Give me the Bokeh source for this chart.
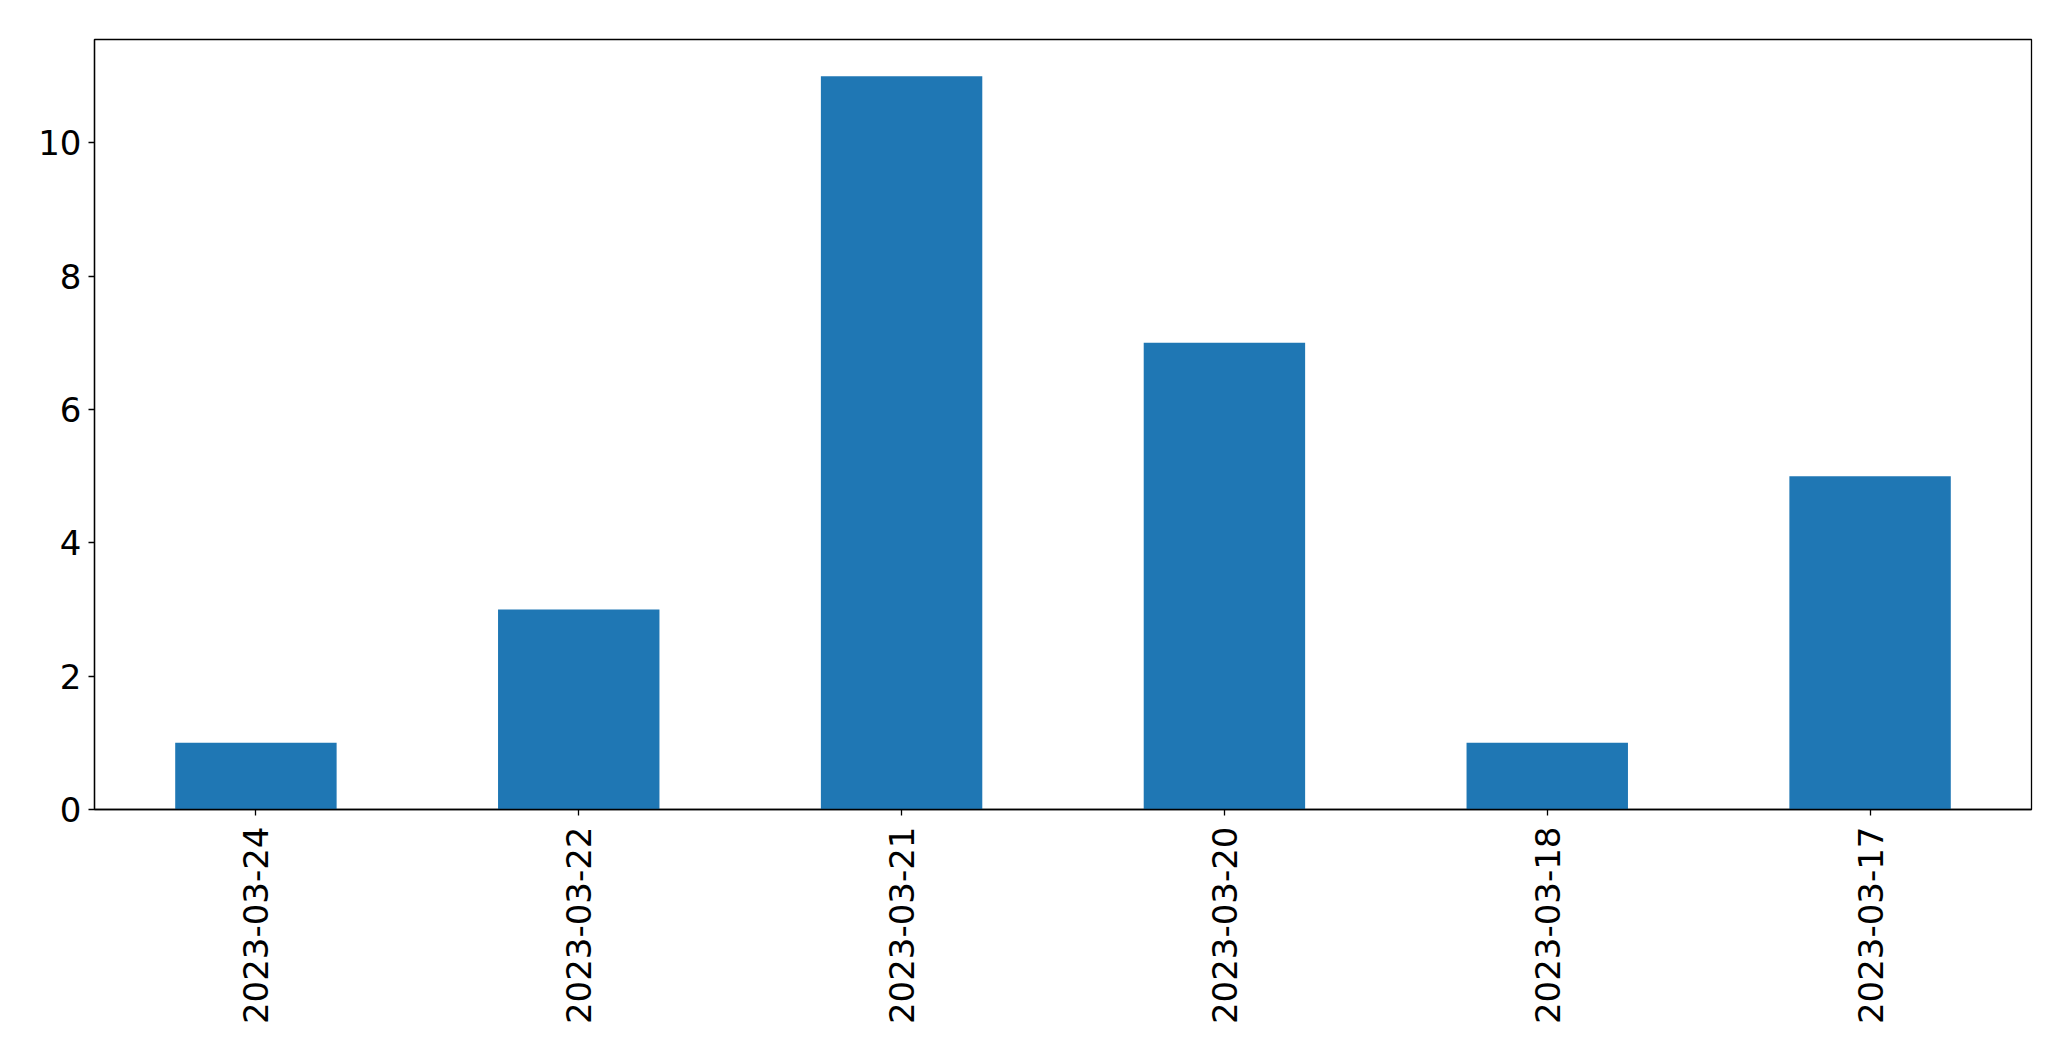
from bokeh.plotting import figure
from bokeh.models import Range1d, FactorRange, FixedTicker
from bokeh.embed import file_html
from bokeh.resources import INLINE
import math

dates = ["2023-03-24", "2023-03-22", "2023-03-21", "2023-03-20", "2023-03-18", "2023-03-17"]
counts = [1, 3, 11, 7, 1, 5]
y_ticks = [0, 2, 4, 6, 8, 10]

p = figure(x_range=FactorRange(*dates, range_padding=0), y_range=Range1d(0, 11.55),
           frame_width=1937, frame_height=770,
           min_border_left=94, min_border_right=31, min_border_top=39, min_border_bottom=200,
           output_backend="svg", toolbar_location=None)

p.vbar(x=dates, top=counts, width=0.5, color="#1f77b4", line_color=None)

p.xgrid.visible = False
p.ygrid.visible = False
p.outline_line_color = "black"
p.outline_line_width = 1.3
p.background_fill_color = "white"
p.border_fill_color = "white"

for ax in (p.xaxis[0], p.yaxis[0]):
    ax.major_label_text_font = "DejaVu Sans"
    ax.major_label_text_font_size = "34px"
    ax.major_label_text_color = "black"
    ax.axis_line_color = "black"
    ax.axis_line_width = 1.3
    ax.major_tick_line_color = "black"
    ax.major_tick_line_width = 1.3
    ax.major_tick_out = 6
    ax.major_tick_in = 0
    ax.minor_tick_line_color = None

p.yaxis[0].ticker = FixedTicker(ticks=y_ticks)
p.yaxis[0].major_label_standoff = 7
p.xaxis[0].major_label_orientation = math.pi / 2
p.xaxis[0].major_label_standoff = 11
p.xaxis[0].group_text_font_size = "0px"

open("out.html", "w").write(file_html(p, INLINE))
